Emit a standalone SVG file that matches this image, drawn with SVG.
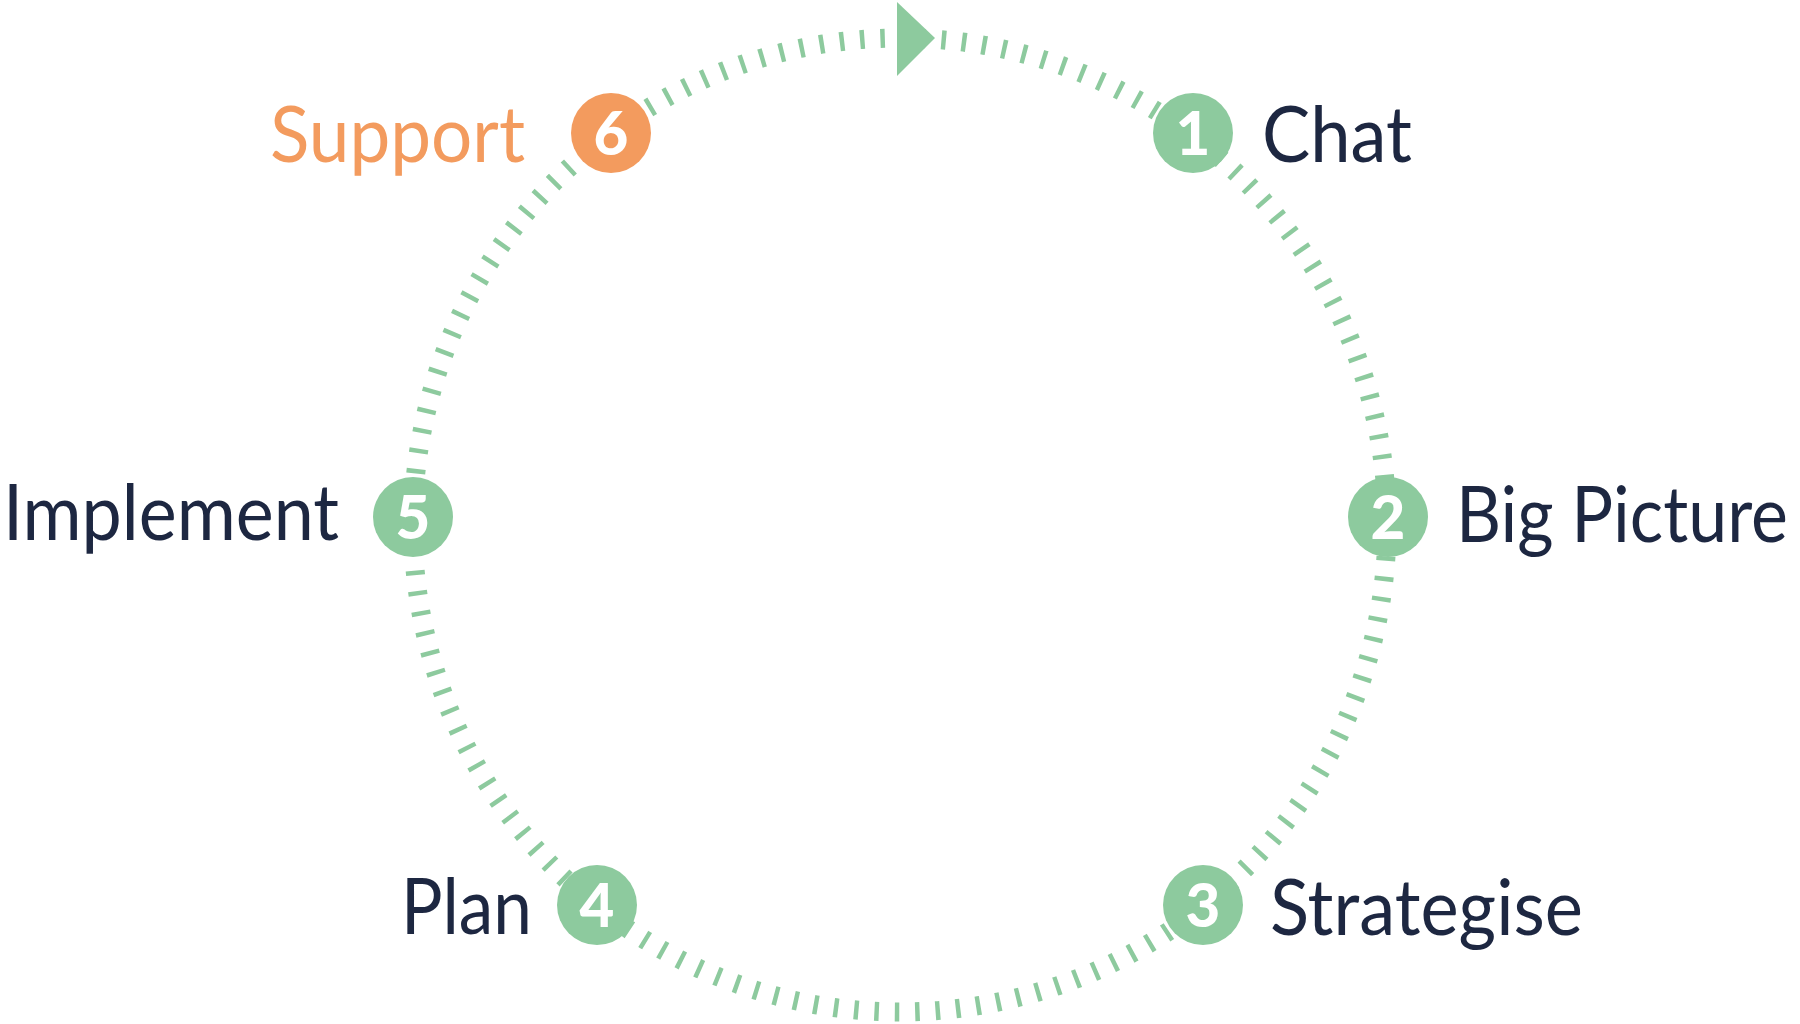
<svg xmlns="http://www.w3.org/2000/svg" width="1800" height="1024" viewBox="0 0 1800 1024">
  <style>
    .ring { fill: none; stroke: #8dca9e; stroke-width: 19; }
    .dot { fill: #8dca9e; }
    .dot6 { fill: #f39b5e; }
    .num { font-family: Lato, "Liberation Sans", sans-serif; font-weight: 900; font-size: 60px; fill: #ffffff; text-anchor: middle; }
    .lbl { font-family: Lato, "Liberation Sans", sans-serif; font-size: 77px; fill: #1d2741; }
    .lbl6 { fill: #f39b5e; }
  </style>
  <rect width="1800" height="1024" fill="#ffffff"/>
  <g id="connectors">
    <circle class="ring" cx="900" cy="525" r="487" pathLength="150" stroke-dasharray="0.22 0.78" stroke-dashoffset="0.464"/>
    <polygon class="dot" points="897,2 897,76 935,38"/>
  </g>
  <g id="node1">
    <circle class="dot" cx="1193" cy="133" r="40"/>
    <text class="num" x="1193" y="155">1</text>
    <text class="lbl" x="1262" y="162" textLength="150" lengthAdjust="spacingAndGlyphs">Chat</text>
  </g>
  <g id="node2">
    <circle class="dot" cx="1388" cy="517" r="40"/>
    <text class="num" x="1388" y="539">2</text>
    <text class="lbl" x="1456" y="542" font-size="74" textLength="332" lengthAdjust="spacingAndGlyphs">Big Picture</text>
  </g>
  <g id="node3">
    <circle class="dot" cx="1203" cy="905" r="40"/>
    <text class="num" x="1203" y="927">3</text>
    <text class="lbl" x="1270" y="935" textLength="313" lengthAdjust="spacingAndGlyphs">Strategise</text>
  </g>
  <g id="node4">
    <circle class="dot" cx="597" cy="905" r="40"/>
    <text class="num" x="597" y="927">4</text>
    <text class="lbl" x="401" y="934" textLength="131" lengthAdjust="spacingAndGlyphs">Plan</text>
  </g>
  <g id="node5">
    <circle class="dot" cx="413" cy="517" r="40"/>
    <text class="num" x="413" y="539">5</text>
    <text class="lbl" x="3" y="540" textLength="336" lengthAdjust="spacingAndGlyphs">Implement</text>
  </g>
  <g id="node6">
    <circle class="dot6" cx="611" cy="133" r="40"/>
    <text class="num" x="611" y="155">6</text>
    <text class="lbl lbl6" x="270" y="162" textLength="255" lengthAdjust="spacingAndGlyphs">Support</text>
  </g>
</svg>
